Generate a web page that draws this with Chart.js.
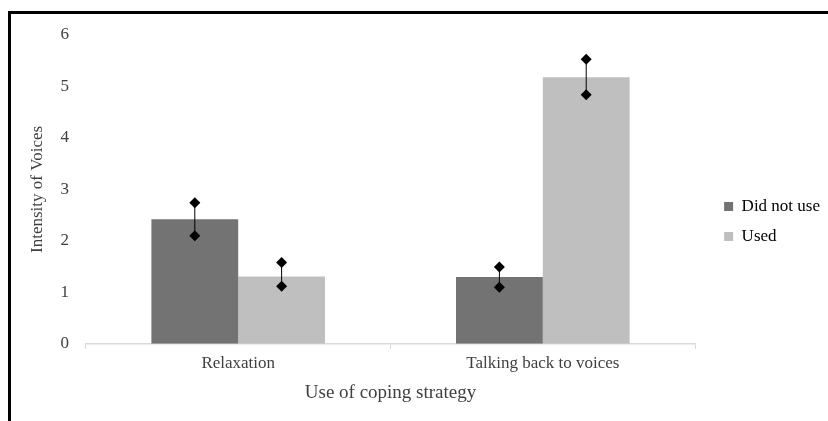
<!DOCTYPE html>
<html>
<head>
<meta charset="utf-8">
<script src="https://cdn.jsdelivr.net/npm/chart.js@4.4.0/dist/chart.umd.min.js"></script>
<style>
  html, body { margin: 0; padding: 0; background: #fff; }
  #wrap { position: relative; width: 828px; height: 421px; }
  #frame { position: absolute; left: 8px; top: 11px; right: 0; bottom: 0;
           border-left: 3px solid #000; border-top: 3px solid #000; }
  canvas { position: absolute; left: 0; top: 0; }
</style>
</head>
<body>
<div id="wrap">
  <div id="frame"></div>
  <canvas id="myChart" width="828" height="421"></canvas>
</div>
<script>
const categories = ['Relaxation', 'Talking back to voices'];
const seriesNames = ['Did not use', 'Used'];
const didNotUse = [2.42, 1.30];
const used = [1.31, 5.18];
// error bar ends (upper / lower) read from the diamonds
const didNotUseHigh = [2.74, 1.49];
const didNotUseLow = [2.10, 1.10];
const usedHigh = [1.58, 5.53];
const usedLow = [1.12, 4.84];

const errorBars = [
    { high: didNotUseHigh, low: didNotUseLow },
    { high: usedHigh, low: usedLow }
];

const errorBarPlugin = {
    id: 'errorBars',
    afterLayout(chart) {
        // push the legend a bit further right, away from the plot
        chart.legend.left += 16;
        chart.legend.right += 16;
    },
    afterDatasetsDraw(chart) {
        const ctx = chart.ctx;
        const yScale = chart.scales.y;
        ctx.save();
        ctx.strokeStyle = '#000';
        ctx.fillStyle = '#000';
        ctx.lineWidth = 1;
        errorBars.forEach((eb, i) => {
            const meta = chart.getDatasetMeta(i);
            meta.data.forEach((bar, j) => {
                const x = bar.x;
                const yh = yScale.getPixelForValue(eb.high[j]);
                const yl = yScale.getPixelForValue(eb.low[j]);
                ctx.beginPath();
                ctx.moveTo(x, yh);
                ctx.lineTo(x, yl);
                ctx.stroke();
                [yh, yl].forEach(y => {
                    const r = 5.5;
                    ctx.beginPath();
                    ctx.moveTo(x, y - r);
                    ctx.lineTo(x + r, y);
                    ctx.lineTo(x, y + r);
                    ctx.lineTo(x - r, y);
                    ctx.closePath();
                    ctx.fill();
                });
            });
        });
        ctx.restore();
    }
};

const serif = "'Liberation Serif', 'Times New Roman', serif";
const textColor = '#404040';

new Chart(document.getElementById('myChart').getContext('2d'), {
    type: 'bar',
    data: {
        labels: categories,
        datasets: [
            {
                label: seriesNames[0],
                data: didNotUse,
                backgroundColor: '#737373',
                categoryPercentage: 0.57,
                barPercentage: 1.0
            },
            {
                label: seriesNames[1],
                data: used,
                backgroundColor: '#bfbfbf',
                categoryPercentage: 0.57,
                barPercentage: 1.0
            }
        ]
    },
    options: {
        responsive: false,
        animation: false,
        layout: {
            padding: { left: 23, right: 14, top: 35, bottom: 13 }
        },
        plugins: {
            legend: {
                display: true,
                position: 'right',
                labels: {
                    font: { family: serif, size: 17 },
                    color: '#000',
                    boxWidth: 9,
                    boxHeight: 9,
                    padding: 13
                }
            },
            tooltip: { enabled: false }
        },
        scales: {
            y: {
                min: 0,
                max: 6,
                ticks: {
                    stepSize: 1,
                    font: { family: serif, size: 17 },
                    color: textColor,
                    padding: 9
                },
                grid: { display: false },
                border: { display: false },
                title: {
                    display: true,
                    text: 'Intensity of Voices',
                    font: { family: serif, size: 17 },
                    color: textColor
                }
            },
            x: {
                ticks: {
                    font: { family: serif, size: 17 },
                    color: textColor,
                    padding: 5
                },
                grid: {
                    offset: true,
                    drawOnChartArea: false,
                    tickLength: 5,
                    color: '#d9d9d9'
                },
                border: { color: '#d9d9d9', width: 1.5 },
                title: {
                    display: true,
                    text: 'Use of coping strategy',
                    font: { family: serif, size: 19 },
                    color: textColor,
                    padding: { top: 2 }
                }
            }
        }
    },
    plugins: [errorBarPlugin]
});
</script>
</body>
</html>
